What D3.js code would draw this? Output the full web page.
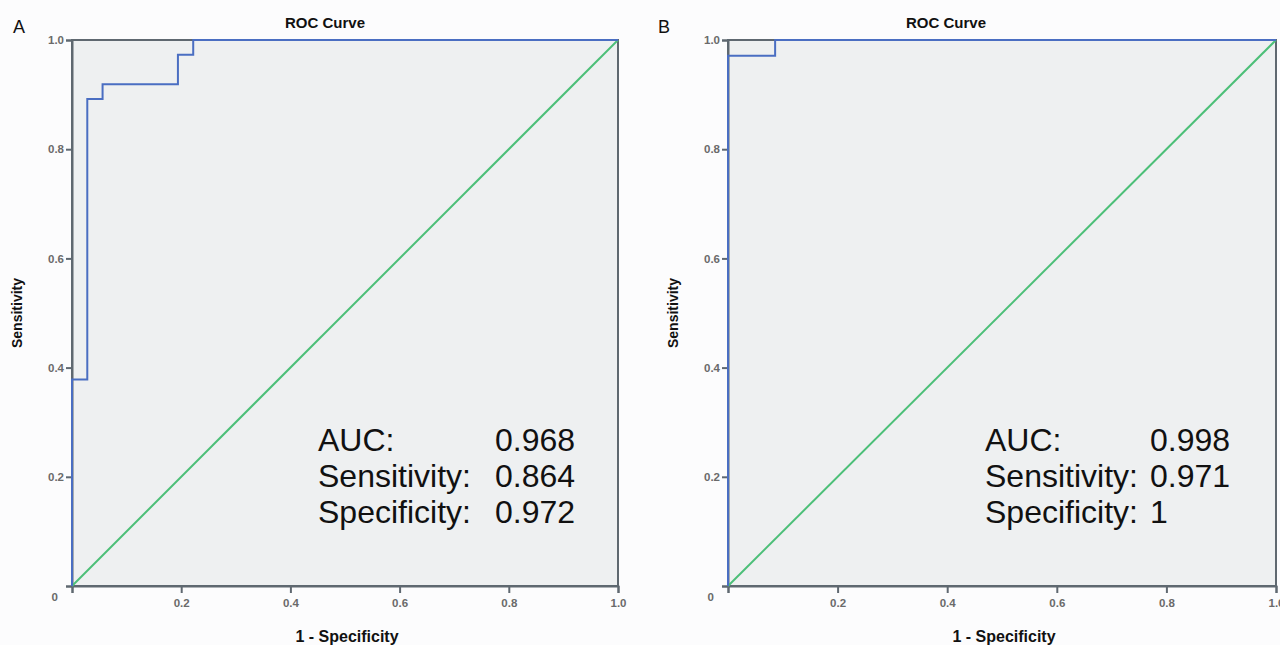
<!DOCTYPE html>
<html>
<head>
<meta charset="utf-8">
<script src="https://cdn.jsdelivr.net/npm/d3@7"></script>
<style>
  body { margin: 0; background: #fcfcfd; }
  svg { display: block; }
  text { font-family: "Liberation Sans", Arial, sans-serif; }
</style>
</head>
<body>
<div id="chart"></div>
<script>
// tick values shared by both axes
const tickValues = [0, 0.2, 0.4, 0.6, 0.8, 1.0];
const tickLabels = ["0", "0.2", "0.4", "0.6", "0.8", "1.0"];

// panel A ROC curve (1 - specificity, sensitivity)
const fprA = [0, 0, 0.028, 0.056, 0.194, 0.222, 1];
const tprA = [0, 0.378, 0.892, 0.919, 0.973, 1, 1];

// panel B ROC curve
const fprB = [0, 0, 0.086, 1];
const tprB = [0, 0.971, 1, 1];

const statLabels = ["AUC:", "Sensitivity:", "Specificity:"];
const statsA = ["0.968", "0.864", "0.972"];
const statsB = ["0.998", "0.971", "1"];

const svg = d3.select("#chart").append("svg")
  .attr("width", 1280)
  .attr("height", 645);

const drawPanel = (opts) => {
  const { letter, letterX, titleX, left, right, top, bottom, fpr, tpr, stats, statX, valX } = opts;

  const x = d3.scaleLinear().domain([0, 1]).range([left, right]);
  const y = d3.scaleLinear().domain([0, 1]).range([bottom, top]);

  const g = svg.append("g");

  // plot background + frame
  g.append("rect")
    .attr("x", x(0)).attr("y", y(1))
    .attr("width", x(1) - x(0)).attr("height", y(0) - y(1))
    .attr("fill", "#eef0f1")
    .attr("stroke", "#5f6870")
    .attr("stroke-width", 2);

  // axes
  const fmt = (d) => tickLabels[tickValues.indexOf(d)];
  const xAxis = g.append("g")
    .attr("transform", `translate(0,${y(0)})`)
    .call(d3.axisBottom(x).tickValues(tickValues).tickFormat(fmt).tickSize(7).tickPadding(6));
  const yAxis = g.append("g")
    .attr("transform", `translate(${x(0)},0)`)
    .call(d3.axisLeft(y).tickValues(tickValues).tickFormat(fmt).tickSize(6).tickPadding(2));

  [xAxis, yAxis].forEach(a => {
    a.select(".domain").attr("stroke", "#5f6870").attr("stroke-width", 2);
    a.selectAll(".tick line").attr("stroke", "#5f6870").attr("stroke-width", 2);
    a.selectAll(".tick text")
      .attr("fill", "#6a6a6a")
      .style("font-size", "11.5px")
      .style("font-weight", "bold");
  });
  // the origin gets one shared "0" label
  xAxis.selectAll(".tick text").filter(d => d === 0).remove();
  yAxis.selectAll(".tick text").filter(d => d === 0)
    .attr("dy", "1.3em").attr("x", -14);

  // reference diagonal
  g.append("line")
    .attr("x1", x(0)).attr("y1", y(0))
    .attr("x2", x(1)).attr("y2", y(1))
    .attr("stroke", "#4cbf78")
    .attr("stroke-width", 2);

  // ROC curve
  const pts = fpr.map((f, i) => [f, tpr[i]]);
  const line = d3.line()
    .x(d => x(d[0]))
    .y(d => y(d[1]))
    .curve(d3.curveStepAfter);
  g.append("path")
    .datum(pts)
    .attr("d", line)
    .attr("fill", "none")
    .attr("stroke", "#4a6ec2")
    .attr("stroke-width", 2);

  // titles
  g.append("text")
    .attr("x", titleX)
    .attr("y", 28)
    .attr("text-anchor", "middle")
    .style("font-size", "15px")
    .style("font-weight", "bold")
    .attr("fill", "#111")
    .text("ROC Curve");

  g.append("text")
    .attr("x", letterX)
    .attr("y", 33)
    .style("font-size", "18px")
    .attr("fill", "#111")
    .text(letter);

  g.append("text")
    .attr("transform", `translate(${x(0) - 50},${(y(0) + y(1)) / 2}) rotate(-90)`)
    .attr("text-anchor", "middle")
    .style("font-size", "14px")
    .style("font-weight", "bold")
    .attr("fill", "#111")
    .text("Sensitivity");

  g.append("text")
    .attr("x", (x(0) + x(1)) / 2 + 2)
    .attr("y", 642)
    .attr("text-anchor", "middle")
    .style("font-size", "16px")
    .style("font-weight", "bold")
    .attr("fill", "#111")
    .text("1 - Specificity");

  // statistics block
  statLabels.forEach((lab, i) => {
    g.append("text")
      .attr("x", statX).attr("y", 451 + i * 36)
      .style("font-size", "32px")
      .attr("fill", "#111")
      .text(lab);
    g.append("text")
      .attr("x", valX).attr("y", 451 + i * 36)
      .style("font-size", "32px")
      .attr("fill", "#111")
      .text(stats[i]);
  });
};

drawPanel({ letter: "A", letterX: 13, titleX: 325, left: 72, right: 618, top: 40, bottom: 586,
  fpr: fprA, tpr: tprA, stats: statsA, statX: 318, valX: 495 });
drawPanel({ letter: "B", letterX: 658, titleX: 946, left: 728, right: 1276, top: 40, bottom: 586,
  fpr: fprB, tpr: tprB, stats: statsB, statX: 985, valX: 1150 });
</script>
</body>
</html>
